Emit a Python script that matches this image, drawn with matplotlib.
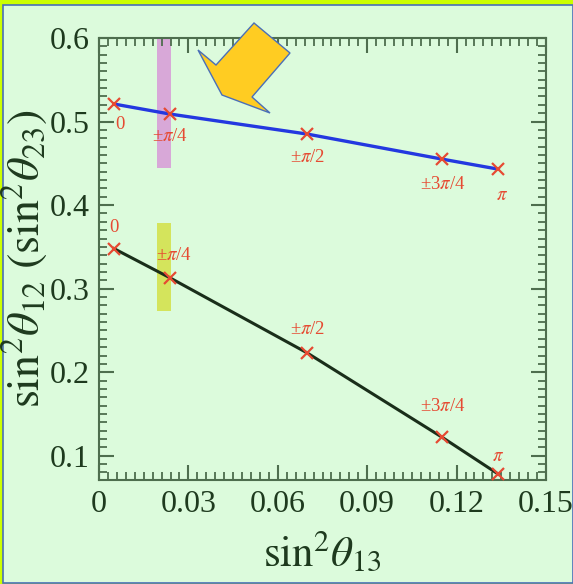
import matplotlib
matplotlib.use("Agg")
import matplotlib.pyplot as plt
from matplotlib.patches import Rectangle, Polygon
from matplotlib.ticker import MultipleLocator

plt.rcParams['font.family'] = 'serif'
plt.rcParams['font.serif'] = ['Liberation Serif', 'DejaVu Serif']
plt.rcParams['mathtext.fontset'] = 'stix'

# sin^2 theta_13 for the five phase values
phase_labels = ["0", r"±$\pi$/4", r"±$\pi$/2", r"±3$\pi$/4", r"$\pi$"]
s13 = [0.005, 0.0238, 0.0699, 0.1152, 0.134]
s23 = [0.521, 0.509, 0.485, 0.455, 0.443]
s12 = [0.348, 0.313, 0.223, 0.122, 0.078]

# highlighted bands (x range, y range)
band23_x = [0.0195, 0.0243]
band23_y = [0.444, 0.6]
band12_x = [0.0195, 0.0243]
band12_y = [0.273, 0.378]

W, H = 573, 584
fig = plt.figure(figsize=(W / 100, H / 100), dpi=100)
fig.patch.set_facecolor('#CCFF00')

bg = '#DCFBDC'
fig.patches.append(Rectangle((3 / W, 1 / H), 1 - 3 / W, 1 - 6 / H, transform=fig.transFigure,
                             facecolor=bg, edgecolor='#4A6FB8', linewidth=1.2, zorder=-1))

ax = fig.add_axes([99 / W, 1 - 480 / H, 447 / W, 442 / H])
ax.set_facecolor(bg)

ax.axvspan(band23_x[0], band23_x[1], ymin=(band23_y[0] - 0.071) / (0.6 - 0.071),
           ymax=(band23_y[1] - 0.071) / (0.6 - 0.071), color='#D8A8D8', lw=0, zorder=1)
ax.axvspan(band12_x[0], band12_x[1], ymin=(band12_y[0] - 0.071) / (0.6 - 0.071),
           ymax=(band12_y[1] - 0.071) / (0.6 - 0.071), color='#D4E45C', lw=0, zorder=1)

red = '#E64A32'
ax.plot(s13, s23, color='#2438E0', lw=2.4, zorder=2)
ax.plot(s13, s12, color='#1A2E1A', lw=2.2, zorder=2)
ax.plot(s13, s23, 'x', color=red, ms=9, mew=1.6, zorder=3)
ax.plot(s13, s12, 'x', color=red, ms=9, mew=1.6, zorder=3)

up_off = [(4, -15), (0, -16), (0, -17), (0, -18), (3, -19)]
lo_off = [(0, 15), (3, 16), (0, 17), (0, 22), (0, 13)]
for i in range(len(s13)):
    ax.annotate(phase_labels[i], (s13[i], s23[i]), xytext=up_off[i], textcoords='offset points',
                ha='center', va='center', color=red, fontsize=13.5)
    ax.annotate(phase_labels[i], (s13[i], s12[i]), xytext=lo_off[i], textcoords='offset points',
                ha='center', va='center', color=red, fontsize=13.5)

ax.set_xlim(0, 0.15)
ax.set_ylim(0.071, 0.6)
ax.set_xticks([0, 0.03, 0.06, 0.09, 0.12, 0.15])
ax.set_xticklabels(["0", "0.03", "0.06", "0.09", "0.12", "0.15"])
ax.set_yticks([0.1, 0.2, 0.3, 0.4, 0.5, 0.6])
ax.set_yticklabels(["0.1", "0.2", "0.3", "0.4", "0.5", "0.6"])
ax.xaxis.set_minor_locator(MultipleLocator(0.003))
ax.yaxis.set_minor_locator(MultipleLocator(0.01))

dark = '#1E3A1E'
for s in ax.spines.values():
    s.set_color('#4E6E4E')
    s.set_linewidth(1.5)
ax.tick_params(which='both', direction='in', top=True, right=True, color='#4E6E4E',
               labelcolor=dark, labelsize=23)
ax.tick_params(which='major', length=11, width=1.5, pad=7)
ax.tick_params(which='minor', length=6, width=1.3)

ax.set_xlabel(r"$\mathrm{sin}^2\theta_{13}$", fontsize=31, color=dark, labelpad=8)
ax.set_ylabel(r"$\mathrm{sin}^2\theta_{12}\ (\mathrm{sin}^2\theta_{23})$", fontsize=33,
              color=dark, labelpad=0)

# block arrow pointing at the band
arrow_px = [(254, 23), (290, 53), (252, 97), (270, 113), (222, 95), (198, 50), (216, 65)]
arrow = Polygon([(x / W, 1 - y / H) for x, y in arrow_px], closed=True, transform=fig.transFigure,
                facecolor='#FFCC22', edgecolor='#4A6FB8', linewidth=1.0, zorder=5)
fig.patches.append(arrow)

fig.savefig("out.png", dpi=100, facecolor=fig.get_facecolor())
